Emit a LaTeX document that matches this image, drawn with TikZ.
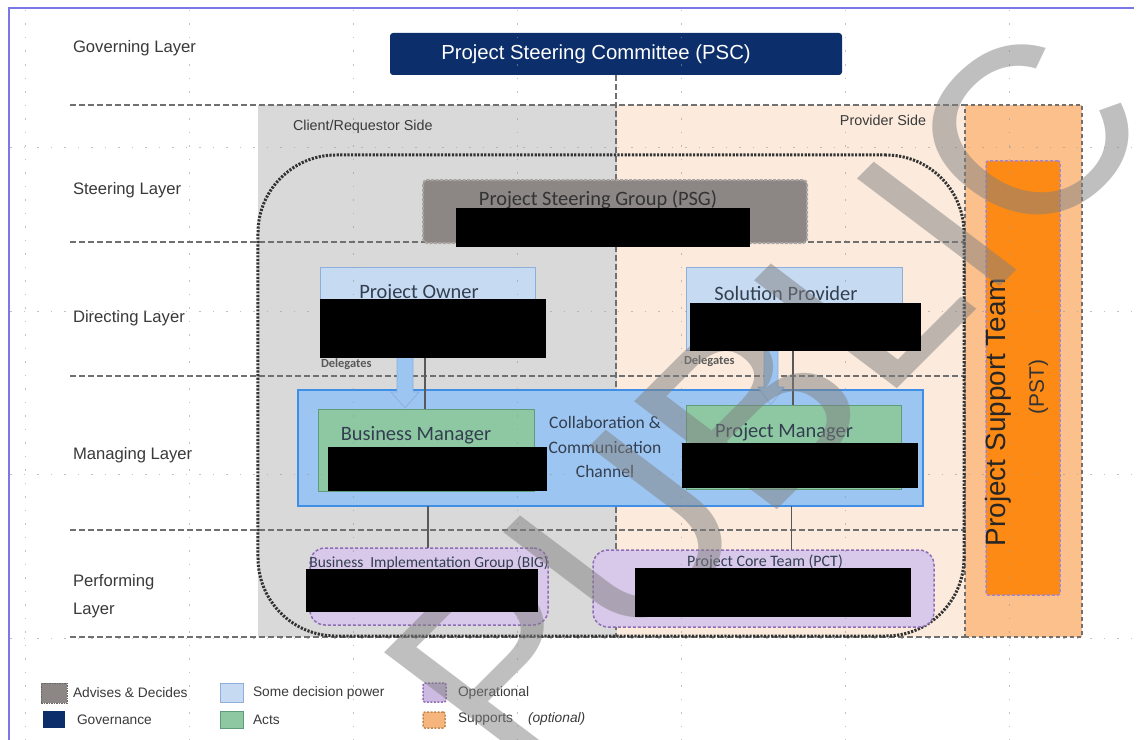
\documentclass[tikz,border=0pt]{standalone}
\usepackage{fontspec}
\setmainfont{Liberation Sans}
\newfontfamily\calfont{Carlito}
\usetikzlibrary{calc}

\definecolor{navy}{HTML}{0C2E6A}
\definecolor{clientgray}{HTML}{D9D9D9}
\definecolor{providerpeach}{HTML}{FCEBDC}
\definecolor{pstlight}{HTML}{FBC08C}
\definecolor{pstorange}{HTML}{FD8A14}
\definecolor{pstedge}{HTML}{A386CC}
\definecolor{psggray}{HTML}{8C8784}
\definecolor{psgedge}{HTML}{A8A4A1}
\definecolor{decblue}{HTML}{C6DAF2}
\definecolor{decblueedge}{HTML}{8FAEDC}
\definecolor{chanblue}{HTML}{9DC5F2}
\definecolor{chanedge}{HTML}{3F8FE6}
\definecolor{actgreen}{HTML}{8DC8A3}
\definecolor{actedge}{HTML}{5E9C7A}
\definecolor{opviolet}{HTML}{D8C8EA}
\definecolor{opedge}{HTML}{8F6DB5}
\definecolor{framecol}{HTML}{7A78E6}
\definecolor{txtgray}{HTML}{3A3A3A}
\definecolor{boxtxt}{HTML}{333F4F}
\definecolor{dashgray}{HTML}{707070}
\definecolor{dotcol}{HTML}{333333}
\definecolor{conngray}{HTML}{595959}
\definecolor{gridgray}{HTML}{9A9A9A}
\definecolor{suporange}{HTML}{F5B57D}
\definecolor{supedge}{HTML}{C08850}

\begin{document}
\begin{tikzpicture}[x=1bp,y=-1bp,
  every node/.style={inner sep=0pt, outer sep=0pt},
  layerlbl/.style={anchor=west, text=txtgray, font=\fontsize{16.7}{20}\selectfont},
  sidelbl/.style={text=txtgray, font=\fontsize{14.4}{17}\selectfont},
  layerline/.style={draw=dashgray, line width=1.3bp, dash pattern=on 6bp off 3bp},
  gridline/.style={draw=gridgray, line width=0.9bp, dash pattern=on 1.5bp off 12bp, opacity=0.6},
  titletxt/.style={font=\calfont\fontsize{20.5}{23}\selectfont, text=boxtxt},
  smalltitle/.style={font=\calfont\fontsize{15.5}{18}\selectfont, text=boxtxt},
  delegtxt/.style={anchor=west, font=\calfont\bfseries\fontsize{12.5}{14}\selectfont, text=black!65},
  decbox/.style={draw=decblueedge, fill=decblue, line width=1bp},
  actbox/.style={draw=actedge, fill=actgreen, line width=1bp},
  opbox/.style={draw=opedge, fill=opviolet, line width=1.5bp, dash pattern=on 3bp off 2bp, rounded corners=15bp},
  conn/.style={draw=conngray, line width=1.4bp},
  delegarrow/.style={fill=chanblue, draw=decblueedge, line width=0.8bp},
  legtxt/.style={anchor=west, text=txtgray, font=\fontsize{13.8}{16}\selectfont},
  legsq/.style={minimum width=23bp, minimum height=19bp}
]
\useasboundingbox (0,0) rectangle (1139,740);
\fill[white] (0,0) rectangle (1139,740);

% side zones
\node[fill=clientgray, minimum width=359bp, minimum height=532bp] (client) at (437.5,371) {};
\node[fill=providerpeach, minimum width=348bp, minimum height=532bp] (provider) at (791,371) {};
\node[fill=pstlight, draw=dashgray, line width=1.3bp, dash pattern=on 4bp off 3bp,
      minimum width=117bp, minimum height=532bp] (pstzone) at (1023.5,371) {};

% layer separators
\foreach \yy in {105,242,376,530,637} \draw[layerline] (70,\yy) -- (965,\yy);

% governing committee and client/provider divider
\node[fill=navy, rounded corners=3bp, minimum width=452bp, minimum height=42bp] (psc) at (616,54) {};
\draw[layerline] (psc.south) -- ++(0,562);

% project core frame
\node[draw=dotcol, line width=3bp, dash pattern=on 2.2bp off 1.4bp, rounded corners=78bp,
      minimum width=706bp, minimum height=481bp] (core) at (611,395.5) {};

% steering group
\node[fill=psggray, draw=psgedge, line width=2bp, dash pattern=on 3bp off 1.5bp, rounded corners=4bp,
      minimum width=384bp, minimum height=63bp] (psg) at (615,211.5) {};

% directing layer
\node[decbox, minimum width=215bp, minimum height=88bp] (po) at (427.5,311) {};
\node[decbox, minimum width=216bp, minimum height=83bp] (sp) at (794,308.5) {};

% managing layer
\node[draw=chanedge, fill=chanblue, line width=2bp, minimum width=625bp, minimum height=116bp] (ch) at (610.5,448) {};
\node[actbox, minimum width=216bp, minimum height=82bp] (bm) at (426,450) {};
\node[actbox, minimum width=215bp, minimum height=84bp] (pm) at (793.5,447) {};

% performing layer
\node[opbox, minimum width=238bp, minimum height=77bp] (big) at (429,586.5) {};
\node[opbox, minimum width=341bp, minimum height=77bp] (pct) at (763.5,588.5) {};

% support team
\node[fill=pstorange, draw=pstedge, line width=1.5bp, dash pattern=on 3bp off 2bp, rounded corners=2bp,
      minimum width=74bp, minimum height=434bp] (pst) at (1023,378) {};

% delegation arrows and reporting lines
\path[delegarrow] (397,356) -- (413,356) -- (413,392) -- (419,392) -- (405,408) -- (391,392) -- (397,392) -- cycle;
\path[delegarrow] (764,351) -- (778,351) -- (778,387) -- (784,387) -- (771,405) -- (758,387) -- (764,387) -- cycle;
\draw[conn] ([xshift=-2.5bp]po.south) -- ([xshift=-2.5bp]po.south |- bm.north);
\draw[conn] ([xshift=-1bp]sp.south) -- ([xshift=-1bp]sp.south |- pm.north);
\draw[conn] ([xshift=-1bp]ch.south -| big.north) -- ([xshift=-1bp]big.north);
\draw[conn] ([xshift=-2bp]ch.south -| pm.south) -- ([xshift=-2bp]pm.south |- pct.north);

% layer labels
\node[layerlbl] (lgov) at (73,48) {Governing Layer};
\node[layerlbl] (lste) at (73,190) {Steering Layer};
\node[layerlbl] (ldir) at (73,318) {Directing Layer};
\node[layerlbl] (lman) at (73,455) {Managing Layer};
\node[layerlbl, align=left, font=\fontsize{16.7}{28}\selectfont] (lper) at (73,596) {Performing\\Layer};

% zone labels
\node[sidelbl, anchor=west] (lcli) at (293,127) {Client/Requestor Side};
\node[sidelbl] (lpro) at (883,120) {Provider Side};

% box titles
\node[text=white, font=\fontsize{20.4}{23}\selectfont] (psct) at (596,54) {Project Steering Committee (PSC)};
\node[titletxt, text=black!80] (psgt) at (598,200) {Project Steering Group (PSG)};
\node[titletxt] (pot) at (419,293) {Project Owner};
\node[titletxt] (spt) at (786,293) {Solution Provider};
\node[titletxt] (bmt) at (416,435) {Business Manager};
\node[titletxt] (pmt) at (784,432) {Project Manager};
\node[align=center, font=\calfont\fontsize{17.6}{24.5}\selectfont, text=boxtxt] (cht) at (605,447)
  {Collaboration \&\\Communication\\Channel};
\node[delegtxt] (dl1) at (321,364) {Delegates};
\node[delegtxt] (dl2) at (684,361) {Delegates};
\node[smalltitle] (bigt) at (429,563) {Business\ \ Implementation Group (BIG)};
\node[smalltitle, font=\calfont\fontsize{16}{18}\selectfont] (pctt) at (765,562) {Project Core Team (PCT)};
\node[rotate=90, text=black!85, font=\fontsize{28}{30}\selectfont] (pstt) at (998,412) {Project Support Team};
\node[rotate=90, text=black!80, font=\fontsize{21}{24}\selectfont] (psta) at (1038.5,387) {(PST)};

% faint layout grid
\foreach \xx in {25,189,353,517,681,845,1009} \draw[gridline] (\xx,10) -- (\xx,740);
\foreach \yy in {147,311,474,638} \draw[gridline] (10,\yy) -- (1139,\yy);

% legend
\node[legsq, minimum width=26bp, minimum height=20bp, fill=psggray, draw=black!60, line width=1bp,
      dash pattern=on 1.5bp off 1bp] (kadv) at (54,693) {};
\node[legsq, minimum width=22bp, minimum height=17bp, fill=navy] (kgov) at (54,719.5) {};
\node[legsq, decbox] (kdec) at (231.5,692.5) {};
\node[legsq, actbox, minimum height=17bp] (kact) at (231.5,719.5) {};
\node[legsq, fill=opviolet!85!opedge, draw=opedge, line width=1.5bp, dash pattern=on 2bp off 1.5bp,
      rounded corners=2bp] (kop) at (434.5,692.5) {};
\node[legsq, minimum width=22bp, minimum height=16bp, fill=suporange, draw=supedge, line width=1.5bp,
      dash pattern=on 2bp off 1.5bp, rounded corners=2bp] (ksup) at (434,720) {};
\node[legtxt] (tadv) at (73,693) {Advises \& Decides};
\node[legtxt] (tgov) at (77,720) {Governance};
\node[legtxt] (tdec) at (253,693) {Some decision power};
\node[legtxt] (tact) at (253,720) {Acts};
\node[legtxt] (top) at (458,693) {Operational};
\node[legtxt] (tsup) at (458,719) {Supports};
\node[legtxt, font=\itshape\fontsize{13.8}{16}\selectfont] (topt) at (528,719) {(optional)};

% classification watermark (rotated, then widened)
\node[anchor=base west, xscale=1.15, rotate=49, text=black!50, text opacity=0.5,
      font=\fontsize{240}{240}\selectfont] (wm) at (512,775) {PUBLIC};

% redacted content
\fill[black] (456,208) rectangle (750,247);
\fill[black] (320,299) rectangle (546,358);
\fill[black] (690,303) rectangle (921,351);
\fill[black] (328,447) rectangle (547,491);
\fill[black] (682,443) rectangle (918,488);
\fill[black] (306,569) rectangle (538,612);
\fill[black] (635,568) rectangle (911,617);

% page frame
\draw[framecol, line width=2bp] (9,742) -- (9,8) -- (1134,8);
\end{tikzpicture}
\end{document}
